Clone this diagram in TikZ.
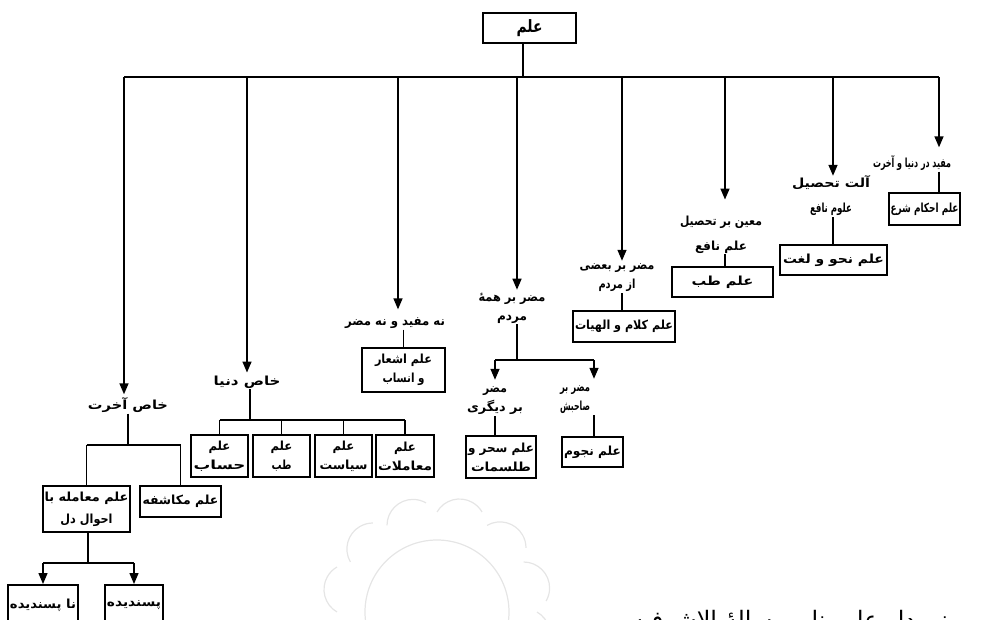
\documentclass[tikz,border=0pt]{standalone}
\usepackage{fontspec}
\usepackage{graphicx}
\usetikzlibrary{arrows.meta,calc}
\TeXXeTstate=1
\newfontfamily\arfont[Script=Arabic]{DejaVu Sans Bold}
\newfontfamily\capfont[Script=Arabic]{DejaVu Sans}
% a line squeezed or widened to a given width, natural height kept
\newcommand\fw[2]{\resizebox{#1pt}{\height}{#2}}
\tikzset{
  conn/.style={line width=1.5pt},
  arr/.style={conn,-{Triangle[width=9pt,length=11pt]},shorten >=2pt},
  txtfont/.style={font=\arfont\fontsize{12.5}{19}\selectfont},
  wide/.style={font=\arfont\fontsize{12.5}{25}\selectfont},
  bx/.style={draw,line width=2pt,inner sep=0pt,txtfont,align=center},
  lbl/.style={inner sep=1pt,txtfont,align=center},
  wm/.style={draw=black!10,line width=1.2pt}
}
\begin{document}
\begin{tikzpicture}[x=1pt,y=-1pt]
\useasboundingbox (0,0) rectangle (1007,620);

% faint watermark ornament
\foreach \k in {0,...,11}{
  \draw[wm] ($(437,612)+({\k*30}:100)$) arc[start angle={\k*30-60},end angle={\k*30+60},radius=26];
}
\draw[wm] (437,612) circle[radius=72];

% root
\node[bx,minimum width=93pt,minimum height=30pt,font=\arfont\fontsize{17}{20}\selectfont] (T) at (529.5,28) {\fw{26}{\beginR علم\endR}};
\coordinate (j0) at (523,77);
\coordinate (bL) at (124,77);
\coordinate (bR) at (939,77);
\draw[conn] (T.south -| j0) -- (j0);
\draw[conn] (bL) -- (bR);

\coordinate (a1) at (939,77);
\coordinate (a2) at (833,77);
\coordinate (a3) at (725,77);
\coordinate (a4) at (622,77);
\coordinate (a5) at (517,77);
\coordinate (a6) at (398,77);
\coordinate (a7) at (247,77);
\coordinate (a8) at (124,77);

% branch 1
\node[lbl] (L1) at (912,163) {\fw{78}{\beginR مفید در دنیا و آخرت\endR}};
\node[bx,minimum width=71pt,minimum height=32pt] (B1) at (924.5,209) {\fw{68}{\beginR علم احکام شرع\endR}};
\draw[arr,shorten >=7pt] (a1) -- (a1 |- L1.north);
\draw[conn] (a1 |- L1.south) -- (a1 |- B1.north);

% branch 2
\node[lbl,wide] (L2) at (831,196) {\fw{78}{\beginR آلت تحصیل\endR}\\\fw{42}{\beginR علوم نافع\endR}};
\node[bx,minimum width=107pt,minimum height=30pt] (B2) at (833.5,260) {\fw{101}{\beginR علم نحو و لغت\endR}};
\draw[arr,shorten >=-1pt] (a2) -- (a2 |- L2.north);
\draw[conn] (a2 |- L2.south) -- (a2 |- B2.north);

% branch 3
\node[lbl,wide] (L3) at (721,234.5) {\fw{82}{\beginR معین بر تحصیل\endR}\\\fw{52}{\beginR علم نافع\endR}};
\node[bx,minimum width=101pt,minimum height=30pt] (B3) at (722.5,282) {\fw{62}{\beginR علم طب\endR}};
\draw[arr,shorten >=15pt] (a3) -- (a3 |- L3.north);
\draw[conn] (a3 |- L3.south) -- (a3 |- B3.north);

% branch 4
\node[lbl] (L4) at (617,278) {\fw{75}{\beginR مضر بر بعضی\endR}\\\fw{37}{\beginR از مردم\endR}};
\node[bx,minimum width=102pt,minimum height=31pt] (B4) at (624,326.5) {\fw{98}{\beginR علم کلام و الهیات\endR}};
\draw[arr] (a4) -- (a4 |- L4.north);
\draw[conn] (a4 |- L4.south) -- (a4 |- B4.north);

% branch 5
\node[lbl] (L5) at (512,308) {\fw{67}{\beginR مضر بر همهٔ\endR}\\\fw{30}{\beginR مردم\endR}};
\coordinate (s5) at (517,360);
\coordinate (s5L) at (495,360);
\coordinate (s5R) at (594,360);
\node[lbl] (L5a) at (495,401) {\fw{24}{\beginR مضر\endR}\\\fw{56}{\beginR بر دیگری\endR}};
\node[lbl] (L5b) at (575,400) {\fw{30}{\beginR مضر بر\endR}\\\fw{30}{\beginR صاحبش\endR}};
\node[bx,minimum width=70pt,minimum height=42pt] (B5a) at (501,457) {\fw{66}{\beginR علم سحر و\endR}\\\fw{60}{\beginR طلسمات\endR}};
\node[bx,minimum width=61pt,minimum height=30pt] (B5b) at (592.5,452) {\fw{57}{\beginR علم نجوم\endR}};
\draw[arr] (a5) -- (a5 |- L5.north);
\draw[conn] (L5.south -| s5) -- (s5);
\draw[conn] (s5L) -- (s5R);
\draw[arr,shorten >=6pt] (s5L) -- (s5L |- L5a.north);
\draw[arr,shorten >=6pt] (s5R) -- (s5R |- L5b.north);
\draw[conn] (s5L |- L5a.south) -- (s5L |- B5a.north);
\draw[conn] (s5R |- L5b.south) -- (s5R |- B5b.north);

% branch 6
\node[lbl] (L6) at (395,323) {\fw{100}{\beginR نه مفید و نه مضر\endR}};
\node[bx,minimum width=83pt,minimum height=44pt] (B6) at (403.5,370) {\fw{57}{\beginR علم اشعار\endR}\\\fw{42}{\beginR و انساب\endR}};
\draw[arr,shorten >=7pt] (a6) -- (a6 |- L6.north);
\draw[conn] (B6.north |- L6.south) -- (B6.north);

% branch 7
\node[lbl] (L7) at (247,382) {\fw{67}{\beginR خاص دنیا\endR}};
\coordinate (s7) at (250,420);
\node[bx,minimum width=57pt,minimum height=42pt] (B7a) at (219.5,456) {\fw{22}{\beginR علم\endR}\\\fw{52}{\beginR حساب\endR}};
\node[bx,minimum width=57pt,minimum height=42pt] (B7b) at (281.5,456) {\fw{22}{\beginR علم\endR}\\\fw{20}{\beginR طب\endR}};
\node[bx,minimum width=57pt,minimum height=42pt] (B7c) at (343.5,456) {\fw{22}{\beginR علم\endR}\\\fw{48}{\beginR سیاست\endR}};
\node[bx,minimum width=58pt,minimum height=42pt] (B7d) at (405,456) {\fw{22}{\beginR علم\endR}\\\fw{54}{\beginR معاملات\endR}};
\draw[arr] (a7) -- (a7 |- L7.north);
\draw[conn] (L7.south -| s7) -- (s7);
\draw[conn] (B7a.north |- s7) -- (B7d.north |- s7);
\draw[conn] (B7a.north |- s7) -- (B7a.north);
\draw[conn] (B7b.north |- s7) -- (B7b.north);
\draw[conn] (B7c.north |- s7) -- (B7c.north);
\draw[conn] (B7d.north |- s7) -- (B7d.north);

% branch 8
\node[lbl] (L8) at (128,405) {\fw{80}{\beginR خاص آخرت\endR}};
\coordinate (s8) at (128,445);
\node[bx,minimum width=87pt,minimum height=46pt,font=\arfont\fontsize{12.5}{22}\selectfont] (B8a) at (86.5,509) {\fw{84}{\beginR علم معامله با\endR}\\\fw{52}{\beginR احوال دل\endR}};
\node[bx,minimum width=81pt,minimum height=31pt] (B8b) at (180.5,501.5) {\fw{76}{\beginR علم مکاشفه\endR}};
\draw[arr] (a8) -- (a8 |- L8.north);
\draw[conn] (L8.south -| s8) -- (s8);
\draw[conn] (B8a.north |- s8) -- (B8b.north |- s8);
\draw[conn] (B8a.north |- s8) -- (B8a.north);
\draw[conn] (B8b.north |- s8) -- (B8b.north);
\coordinate (s9) at (88,563);
\node[bx,minimum width=70pt,minimum height=40pt] (B8c) at (43,605) {\fw{66}{\beginR نا پسندیده\endR}};
\node[bx,minimum width=58pt,minimum height=40pt] (B8d) at (134,605) {\fw{54}{\beginR پسندیده\endR}};
\draw[conn] (B8a.south -| s9) -- (s9);
\draw[conn] (B8c.north |- s9) -- (B8d.north |- s9);
\draw[arr,shorten >=0pt] (B8c.north |- s9) -- (B8c.north);
\draw[arr,shorten >=0pt] (B8d.north |- s9) -- (B8d.north);

% cut-off caption
\node[font=\capfont\fontsize{24}{26}\selectfont,anchor=base,inner sep=0pt] (cap) at (790,628) {\beginR نمودار علم بنابر رسالهٔ الاشرفیه\endR};
\end{tikzpicture}
\end{document}
